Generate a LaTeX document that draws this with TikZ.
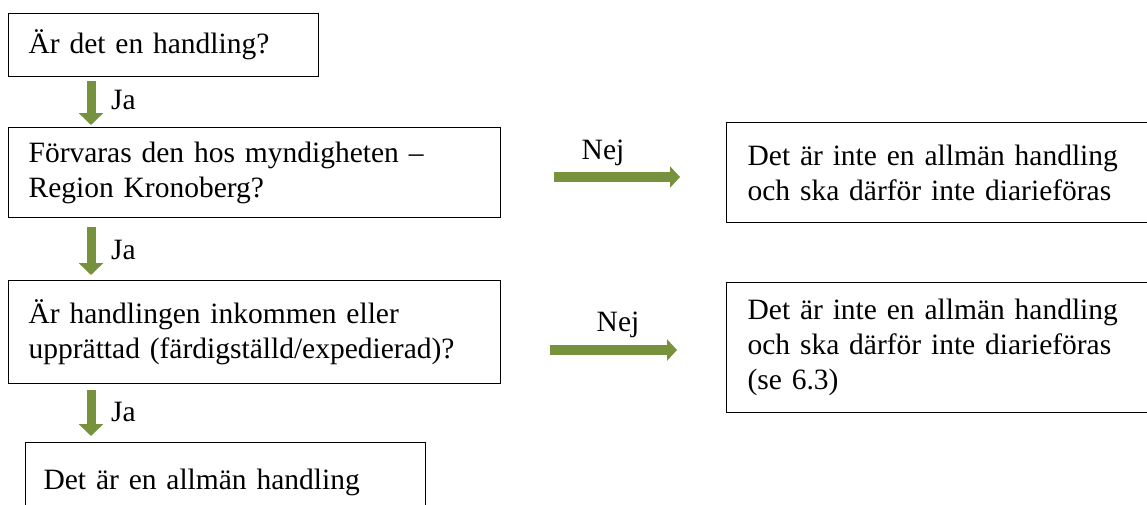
\documentclass[tikz,border=0pt]{standalone}
\usepackage{fontspec}
\setmainfont{Liberation Serif}
\usetikzlibrary{arrows.meta,calc}
\definecolor{arrowgreen}{HTML}{76923C}
\tikzset{
  box/.style={draw=black, line width=1.2pt, anchor=north west, inner xsep=20pt, inner ysep=0pt,
    align=left, font=\fontsize{29.5}{35}\selectfont},
  lbl/.style={anchor=center, inner sep=0pt, font=\fontsize{29.5}{35}\selectfont},
  downarr/.style={draw=arrowgreen, line width=9pt, -{Triangle[width=24pt,length=12pt]}},
  rightarr/.style={draw=arrowgreen, line width=10pt, -{Triangle[width=21pt,length=10pt]}}
}
\begin{document}
\begin{tikzpicture}[x=1pt,y=-1pt]
\useasboundingbox (0,0) rectangle (1147,504);
\clip (0,0) rectangle (1147,504);
% left column
\node[box, text width=270pt, minimum height=63pt] (b1) at (8,13) {Är det en handling?};
\node[box, text width=452pt, minimum height=90pt] (b2) at (8,127) {Förvaras den hos myndigheten –\\Region Kronoberg?};
\node[box, text width=452pt, minimum height=103pt] (b3) at (8,280) {Är handlingen inkommen eller\\upprättad (färdigställd/expedierad)?};
\node[box, inner xsep=18pt, text width=364pt, minimum height=80pt] (b4) at (25,442) {Det är en allmän handling};
% right column
\node[box, inner xsep=21pt, text width=420pt, minimum height=100pt] (r1) at (726,122) {Det är inte en allmän handling\\och ska därför inte diarieföras};
\node[box, inner xsep=21pt, text width=420pt, minimum height=130pt] (r2) at (726,282) {Det är inte en allmän handling\\och ska därför inte diarieföras\\(se 6.3)};
% down arrows
\draw[downarr] ($(b1.south west)+(83,4)$) -- ($(b2.north west)+(83,-2)$);
\draw[downarr] ($(b2.south west)+(83,9)$) -- ($(b3.north west)+(83,-5)$);
\draw[downarr] ($(b3.south west)+(83,6)$) -- ($(b4.north west)+(66,-6)$);
\node[lbl, anchor=west] (ja1) at (111,100) {Ja};
\node[lbl, anchor=west] (ja2) at (111,250) {Ja};
\node[lbl, anchor=west] (ja3) at (111,412) {Ja};
% right arrows
\coordinate (n1s) at (554,177);
\coordinate (n1e) at (680,177);
\coordinate (n2s) at (550,350);
\coordinate (n2e) at (677,350);
\draw[rightarr] (n1s) -- (n1e);
\draw[rightarr] (n2s) -- (n2e);
\node[lbl] (nej1) at (603,153) {Nej};
\node[lbl] (nej2) at (618,325) {Nej};
\end{tikzpicture}
\end{document}
